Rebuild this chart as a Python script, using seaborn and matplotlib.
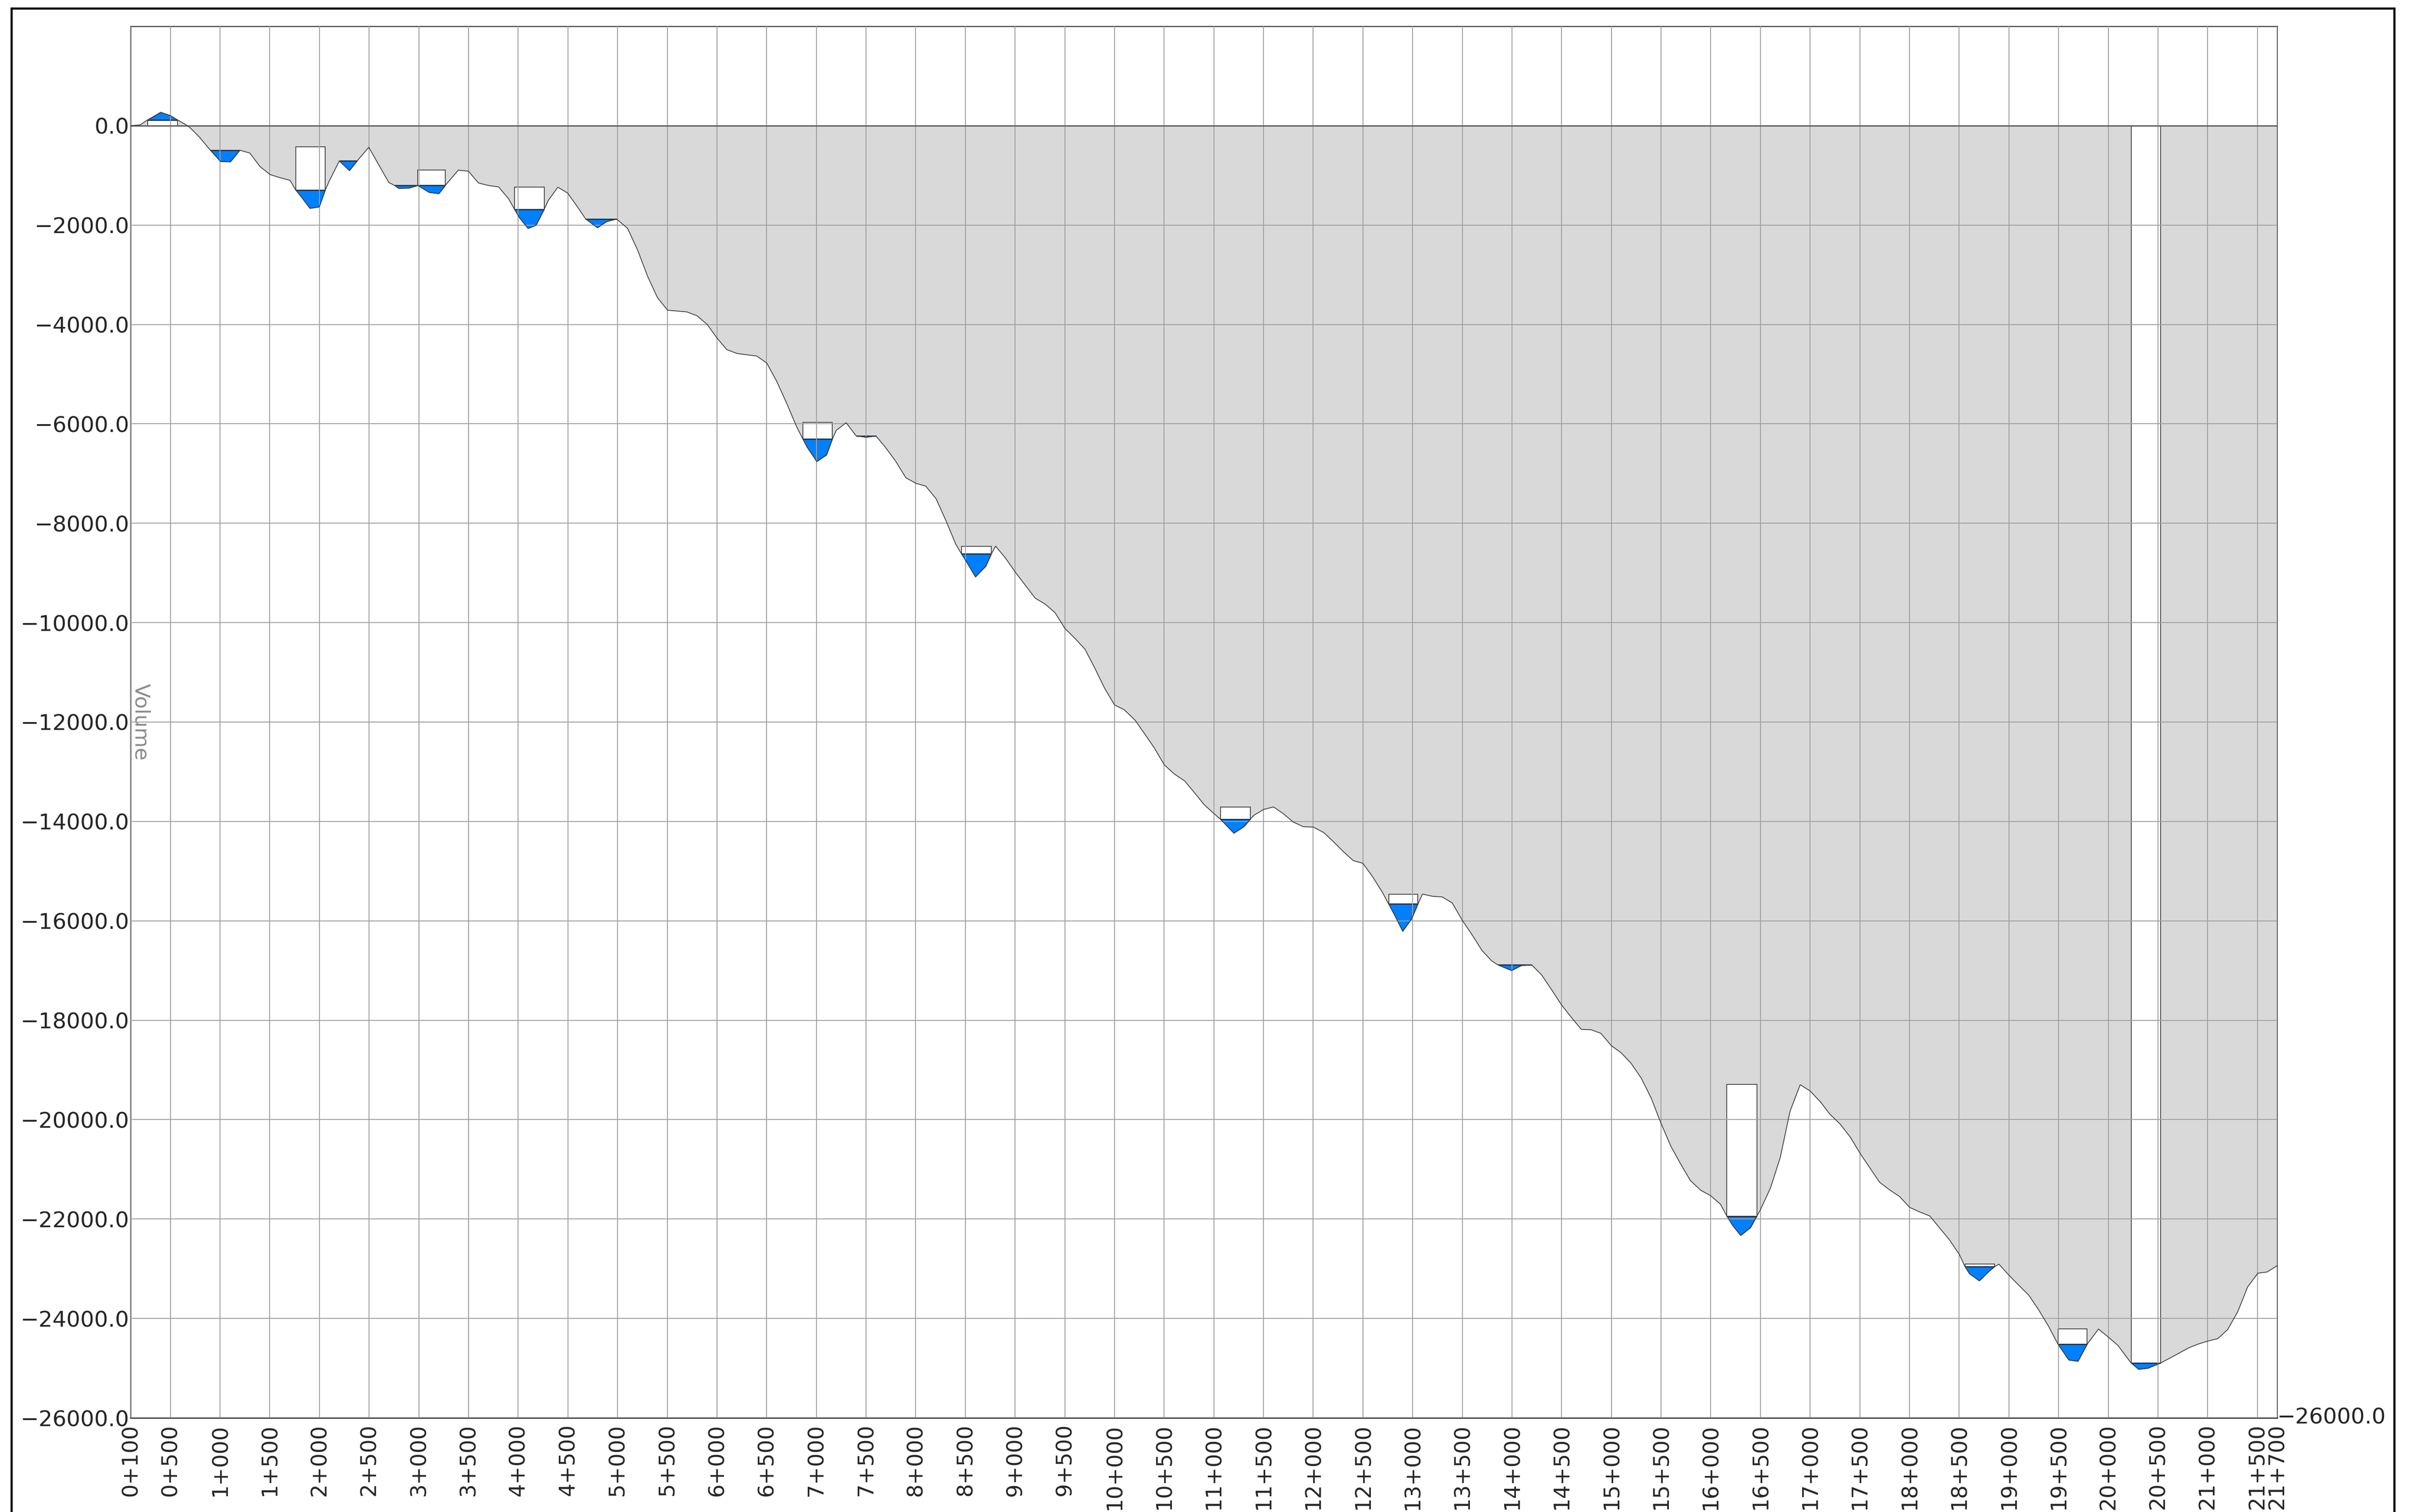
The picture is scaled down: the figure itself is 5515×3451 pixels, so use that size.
import numpy as np
import pandas as pd
import matplotlib
matplotlib.use("Agg")
import matplotlib.pyplot as plt
from matplotlib.patches import Rectangle
import seaborn as sns

# Mass haul ordinates: chainage (m) and cumulative volume
stations = [
    100, 194, 272, 403, 498, 572, 673, 700, 795, 902, 1004, 1104, 1199, 1300,
    1401, 1503, 1594, 1705, 1762, 1813, 1904, 1998, 2059, 2099, 2200, 2302,
    2379, 2497, 2598, 2699, 2757, 2797, 2902, 2990, 3104, 3202, 3266, 3397,
    3499, 3600, 3701, 3802, 3902, 3964, 4011, 4099, 4180, 4261, 4301, 4399,
    4497, 4595, 4679, 4797, 4888, 4990, 5101, 5200, 5304, 5402, 5503, 5697,
    5801, 5902, 6001, 6099, 6203, 6400, 6501, 6602, 6704, 6799, 6864, 6906,
    7004, 7103, 7162, 7201, 7300, 7401, 7502, 7600, 7693, 7797, 7901, 8003,
    8101, 8205, 8306, 8402, 8461, 8509, 8601, 8705, 8761, 8804, 8902, 9006,
    9202, 9304, 9402, 9500, 9604, 9703, 9801, 9900, 10001, 10099, 10209,
    10307, 10400, 10501, 10602, 10706, 10805, 10903, 11002, 11066, 11201,
    11305, 11367, 11403, 11502, 11601, 11699, 11798, 11902, 12000, 12107,
    12205, 12303, 12402, 12500, 12598, 12697, 12759, 12830, 12900, 12990,
    13054, 13100, 13200, 13300, 13399, 13498, 13602, 13700, 13798, 13860,
    13995, 14094, 14200, 14299, 14394, 14496, 14600, 14698, 14796, 14895,
    14999, 15097, 15198, 15302, 15401, 15496, 15598, 15696, 15795, 15899,
    15997, 16098, 16163, 16222, 16301, 16399, 16464, 16497, 16601, 16700,
    16798, 16900, 17000, 17105, 17198, 17303, 17405, 17501, 17600, 17699,
    17798, 17900, 18002, 18101, 18204, 18303, 18402, 18501, 18559, 18603,
    18702, 18807, 18856, 18900, 18999, 19098, 19200, 19302, 19401, 19494,
    19602, 19695, 19788, 19902, 20001, 20097, 20230, 20304, 20397, 20527,
    20670, 20809, 20902, 21001, 21103, 21202, 21304, 21403, 21505, 21598,
    21700,
]
volumes = [
    0, 15, 117, 270, 205, 117, 0, -44, -235, -493, -719, -727, -493, -551,
    -821, -983, -1041, -1100, -1296, -1422, -1663, -1634, -1296, -1114, -710,
    -903, -710, -434, -792, -1144, -1203, -1261, -1255, -1203, -1343, -1367,
    -1203, -895, -915, -1153, -1203, -1232, -1466, -1686, -1848, -2068, -2000,
    -1686, -1510, -1238, -1355, -1628, -1877, -2053, -1930, -1877, -2067,
    -2494, -3039, -3461, -3713, -3747, -3826, -4000, -4275, -4506, -4584,
    -4635, -4775, -5146, -5596, -6045, -6303, -6466, -6758, -6624, -6303,
    -6129, -5977, -6242, -6268, -6242, -6466, -6747, -7084, -7197, -7253,
    -7506, -7955, -8416, -8618, -8770, -9079, -8865, -8618, -8461, -8697,
    -8994, -9506, -9629, -9798, -10112, -10320, -10534, -10910, -11315,
    -11657, -11753, -11966, -12247, -12517, -12860, -13045, -13185, -13421,
    -13663, -13843, -13955, -14236, -14101, -13955, -13876, -13758, -13708,
    -13843, -14011, -14107, -14112, -14225, -14410, -14607, -14787, -14843,
    -15112, -15430, -15660, -15930, -16210, -15960, -15660, -15461, -15506,
    -15520, -15640, -15983, -16292, -16601, -16809, -16888, -17000, -16899,
    -16888, -17090, -17371, -17685, -17949, -18185, -18191, -18264, -18511,
    -18652, -18865, -19169, -19567, -20056, -20533, -20888, -21225, -21421,
    -21528, -21702, -21944, -22135, -22331, -22174, -21944, -21826, -21376,
    -20758, -19831, -19298, -19423, -19646, -19889, -20091, -20354, -20673,
    -20966, -21260, -21411, -21548, -21766, -21857, -21938, -22180, -22418,
    -22711, -22960, -23101, -23243, -23040, -22960, -22909, -23127, -23329,
    -23532, -23835, -24164, -24518, -24837, -24862, -24518, -24214, -24376,
    -24543, -24897, -25023, -25003, -24897, -24745, -24593, -24518, -24457,
    -24406, -24224, -23860, -23364, -23091, -23066, -22939,
]

# Balance segments: start / end chainage, balance level, top of free-haul box
seg_start = [272, 902, 1762, 2200, 2757, 2990, 3964, 4679, 6864, 7401, 8461,
             11066, 12759, 13860, 16163, 18559, 19494, 20230]
seg_end = [572, 1199, 2059, 2379, 2990, 3266, 4261, 4990, 7162, 7600, 8761,
           11367, 13054, 14200, 16464, 18856, 19788, 20527]
seg_level = [117, -493, -1296, -710, -1203, -1203, -1686, -1877, -6303, -6242,
             -8618, -13955, -15660, -16888, -21944, -22960, -24518, -24897]
seg_top = [0, -493, -428, -710, -1203, -895, -1238, -1877, -5972, -6242,
           -8461, -13708, -15461, -16888, -19292, -22909, -24214, 0]

tick_stations = [100] + list(range(500, 21501, 500)) + [21700]
y_ticks = list(range(0, -26001, -2000))


def chainage(s):
    return f"{s // 1000}+{s % 1000:03d}"


def vol_label(v):
    return f"{v:.1f}".replace("-", "\u2212")


sns.set_style("white")
plt.rcParams["font.family"] = ["DejaVu Sans"]
plt.rcParams["axes.unicode_minus"] = True

W, H, DPI = 5515, 3451, 100
fig = plt.figure(figsize=(W / DPI, H / DPI), dpi=DPI)
ax = fig.add_axes([298 / W, 1 - 3236 / H, (5196 - 298) / W, (3236 - 60) / H])

df = pd.DataFrame({"station": stations, "volume": volumes})
s = df["station"].to_numpy(dtype=float)
v = df["volume"].to_numpy(dtype=float)

# shaded area between the mass curve and the zero line
ax.fill_between(s, v, 0, color="#d9d9d9", linewidth=0, zorder=1)

# free-haul boxes and balance wedges
for x1, x2, lvl, top in zip(seg_start, seg_end, seg_level, seg_top):
    lo, hi = min(lvl, top), max(lvl, top)
    if hi - lo > 0:
        ax.bar(x1, hi - lo, width=x2 - x1, bottom=lo, align="edge",
               color="white", edgecolor="#3a3a3a", linewidth=1.3, zorder=1.2)
    m = (s >= x1) & (s <= x2)
    xs, vs = s[m], v[m]
    if lvl > 0:
        ax.fill_between(xs, lvl, np.maximum(vs, lvl), color="#0080ff",
                        edgecolor="#1b2f4a", linewidth=0.8, zorder=1.4)
    else:
        ax.fill_between(xs, np.minimum(vs, lvl), lvl, color="#0080ff",
                        edgecolor="#1b2f4a", linewidth=0.8, zorder=1.4)
    ax.hlines(lvl, x1, x2, color="#1d3550", linewidth=2.0, zorder=1.6)

# mass haul curve
sns.lineplot(data=df, x="station", y="volume", ax=ax, color="#3a3a3a",
             linewidth=1.3, zorder=3, sort=True, estimator=None)

ax.axhline(0, color="#555555", linewidth=2.0, zorder=2.6)

ax.set_xlim(100, 21700)
ax.set_ylim(-26000, 2000)
ax.set_axisbelow(False)
ax.grid(True, color="#a0a0a0", linewidth=1.5)

ax.set_xticks(tick_stations)
ax.set_xticklabels([chainage(t) for t in tick_stations], rotation=90,
                   fontsize=35)
ax.set_yticks(y_ticks)
ax.set_yticklabels([vol_label(t) for t in y_ticks], fontsize=36)
ax.tick_params(axis="x", length=0, pad=10)
ax.tick_params(axis="y", length=0, pad=2)
ax.set_xlabel("")
ax.set_ylabel("")

for side, col, lw in [("left", "#555555", 2.0), ("bottom", "#333333", 2.5),
                      ("top", "#555555", 2.0), ("right", "#111111", 1.5)]:
    ax.spines[side].set_visible(True)
    ax.spines[side].set_color(col)
    ax.spines[side].set_linewidth(lw)

ax.text(100, -12000, "Volume", rotation=-90, ha="left", va="center",
        color="#8c8c8c", fontsize=34, zorder=4)
ax.text(21700, -26000, vol_label(-26000), ha="left", va="center",
        fontsize=36, clip_on=False)

# sheet border (its lower edge runs past the bottom of the sheet)
fig.add_artist(Rectangle((26 / W, -0.01), (5463 - 26) / W, 1 - 19 / H + 0.01,
                         transform=fig.transFigure, fill=False,
                         edgecolor="black", linewidth=3.5))

fig.savefig("out.png", dpi=DPI, facecolor="white")
